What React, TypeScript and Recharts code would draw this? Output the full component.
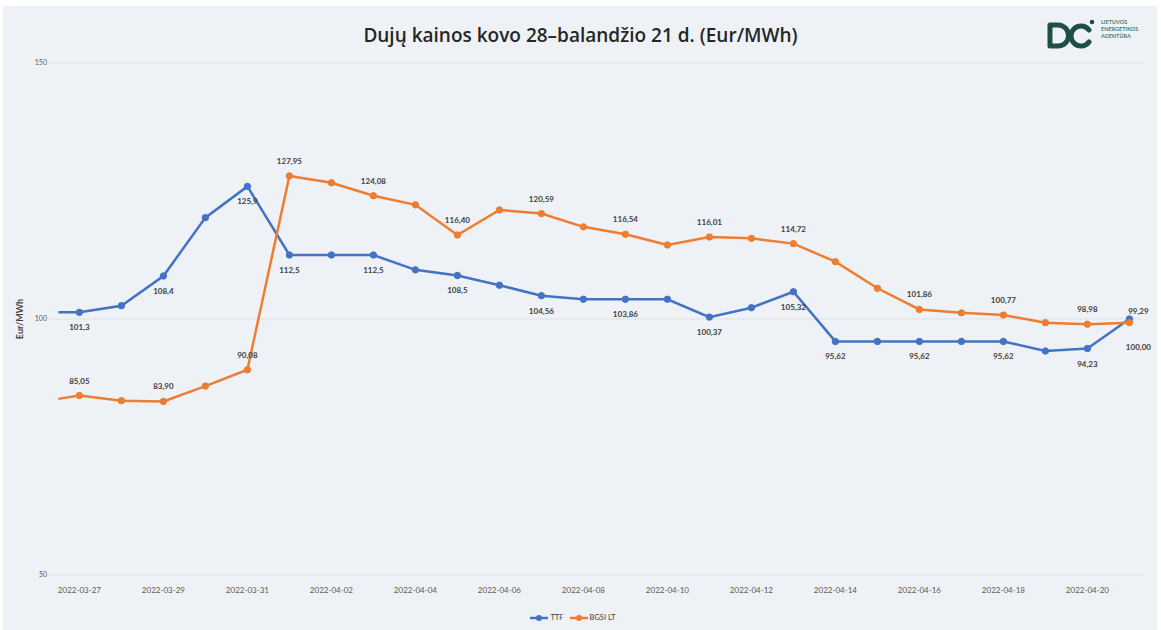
import React from 'react';
import { LineChart, Line, XAxis, YAxis, CartesianGrid, Legend, LabelList } from 'recharts';

const dates = [
  '2022-03-26T12:00', '2022-03-27', '2022-03-28', '2022-03-29', '2022-03-30', '2022-03-31',
  '2022-04-01', '2022-04-02', '2022-04-03', '2022-04-04', '2022-04-05', '2022-04-06',
  '2022-04-07', '2022-04-08', '2022-04-09', '2022-04-10', '2022-04-11', '2022-04-12',
  '2022-04-13', '2022-04-14', '2022-04-15', '2022-04-16', '2022-04-17', '2022-04-18',
  '2022-04-19', '2022-04-20', '2022-04-21',
];

const ttf = [
  101.3, 101.3, 102.6, 108.4, 119.8, 125.9, 112.5, 112.5, 112.5, 109.6, 108.5, 106.6,
  104.56, 103.86, 103.86, 103.86, 100.37, 102.2, 105.32, 95.62, 95.62, 95.62, 95.62, 95.62,
  93.75, 94.23, 100.0,
];

const bgsi = [
  84.4, 85.05, 84.05, 83.9, 86.9, 90.08, 127.95, 126.6, 124.08, 122.3, 116.4, 121.3,
  120.59, 118.0, 116.54, 114.45, 116.01, 115.75, 114.72, 111.2, 106.0, 101.86, 101.2, 100.77,
  99.28, 98.98, 99.29,
];

const ttfLabels = [
  '', '101,3', '', '108,4', '', '125,9', '112,5', '', '112,5', '', '108,5', '',
  '104,56', '', '103,86', '', '100,37', '', '105,32', '95,62', '', '95,62', '', '95,62',
  '', '94,23', '100,00',
];

const bgsiLabels = [
  '', '85,05', '', '83,90', '', '90,08', '127,95', '', '124,08', '', '116,40', '',
  '120,59', '', '116,54', '', '116,01', '', '114,72', '', '', '101,86', '', '100,77',
  '', '98,98', '99,29',
];

const tickDates = [
  '2022-03-27', '2022-03-29', '2022-03-31', '2022-04-02', '2022-04-04', '2022-04-06',
  '2022-04-08', '2022-04-10', '2022-04-12', '2022-04-14', '2022-04-16', '2022-04-18', '2022-04-20',
];

const yTicks = [50, 100, 150];

const TITLE = 'Dujų kainos kovo 28–balandžio 21 d. (Eur/MWh)';
const Y_LABEL = 'Eur/MWh';
const SERIES_TTF = 'TTF';
const SERIES_BGSI = 'BGSI LT';

const BASE = Date.parse('2022-03-27T00:00:00');
const DAY = 86400000;
const toDay = (s: string) => (Date.parse(s.length === 10 ? s + 'T00:00:00' : s + ':00') - BASE) / DAY;

const data = dates.map((d, i) => ({ x: toDay(d), date: d, ttf: ttf[i], bgsi: bgsi[i] }));
const ticks = tickDates.map(toDay);
const tickFmt = (v: number) => {
  const i = ticks.findIndex((t) => Math.abs(t - v) < 1e-6);
  return i >= 0 ? tickDates[i] : '';
};

const BLUE = '#4472C4';
const ORANGE = '#ED7D31';
const FONT = 'Lato, "Open Sans", sans-serif';
const LAST = dates.length - 1;

const makeDot = (color: string) => (props: any) => {
  const { cx, cy, index } = props;
  if (index === 0) return <g key={`d${index}`} />;
  return <circle key={`d${index}`} cx={cx} cy={cy} r={3.2} fill={color} stroke={color} strokeWidth={1} />;
};

const makeLabel = (labels: string[], below: boolean) => (props: any) => {
  const { x, y, index } = props;
  const t = labels[index];
  if (!t) return null;
  let dx = 0;
  let dy = below ? 18 : -12;
  if (index === LAST) {
    dx = 9;
    dy = below ? 31 : -9;
  }
  return (
    <text
      key={`l${index}`}
      x={x + dx}
      y={y + dy}
      textAnchor="middle"
      fontSize={8}
      fontWeight={700}
      fill="#404040"
      fontFamily={FONT}
    >
      {t}
    </text>
  );
};

const YLabel = (props: any) => {
  const vb = props.viewBox || {};
  const cy = (vb.y || 0) + (vb.height || 0) / 2;
  return (
    <text x={23} y={cy} transform={`rotate(-90 23 ${cy})`} textAnchor="middle" fontSize={9} fontWeight={700} fill="#404040" fontFamily={FONT}>
      {Y_LABEL}
    </text>
  );
};

const LegendContent = () => (
  <div style={{ display: 'flex', justifyContent: 'center', alignItems: 'center', height: 25, fontFamily: FONT, fontSize: 7.5, color: '#404040', paddingLeft: 0 }}>
    {[
      { name: SERIES_TTF, color: BLUE },
      { name: SERIES_BGSI, color: ORANGE },
    ].map((s) => (
      <div key={s.name} style={{ display: 'flex', alignItems: 'center', marginRight: 6 }}>
        <svg width={18} height={8} style={{ marginRight: 2 }}>
          <line x1={0} y1={4} x2={18} y2={4} stroke={s.color} strokeWidth={2.5} />
          <circle cx={9} cy={4} r={3} fill={s.color} />
        </svg>
        <span>{s.name}</span>
      </div>
    ))}
  </div>
);

const Logo = () => (
  <svg width={100} height={40} style={{ position: 'absolute', left: 1044, top: 14 }}>
    <path d="M6 11 L14 11 A10.5 10.5 0 0 1 14 32 L6 32 Z" fill="none" stroke="#1d4f47" strokeWidth={5} strokeLinejoin="round" />
    <path d="M45 16 A10 10 0 1 0 45 28" fill="none" stroke="#1d4f47" strokeWidth={5} strokeLinecap="round" />
    <circle cx={48} cy={8} r={2.3} fill="#1d4f47" />
    <text x={57} y={10} fontSize={5.5} fontWeight={700} fill="#4f7a72" fontFamily={FONT}>LIETUVOS</text>
    <text x={57} y={17} fontSize={5.5} fontWeight={700} fill="#4f7a72" fontFamily={FONT}>ENERGETIKOS</text>
    <text x={57} y={24} fontSize={5.5} fontWeight={700} fill="#4f7a72" fontFamily={FONT}>AGENTŪRA</text>
  </svg>
);

export default function App() {
  return (
    <div style={{ position: 'absolute', left: 0, top: 0, width: 1161, height: 630, background: '#ffffff', overflow: 'hidden' }}>
      <div style={{ position: 'absolute', left: 3, top: 6, width: 1154, height: 624, background: '#EEF2F6' }} />
      <div
        style={{
          position: 'absolute',
          left: 0,
          top: 22,
          width: 1161,
          textAlign: 'center',
          fontFamily: '"Open Sans", sans-serif',
          fontSize: 19,
          fontWeight: 600,
          color: '#262626',
        }}
      >
        {TITLE}
      </div>
      <Logo />
      <div style={{ position: 'absolute', left: 0, top: 0 }}>
        <LineChart width={1161} height={630} data={data} margin={{ top: 63, right: 19, left: 10, bottom: 0 }}>
          <CartesianGrid vertical={false} stroke="#dde2e8" strokeWidth={1} />
          <XAxis
            dataKey="x"
            type="number"
            domain={[-0.7, 25.3]}
            ticks={ticks}
            tickFormatter={tickFmt}
            axisLine={false}
            tickLine={false}
            tickSize={0}
            tickMargin={12}
            height={30}
            interval={0}
            tick={{ fontSize: 8, fill: '#595959', fontFamily: FONT }}
          />
          <YAxis
            type="number"
            domain={[50, 150]}
            ticks={yTicks}
            axisLine={false}
            tickLine={false}
            tickSize={0}
            tickMargin={3}
            width={40}
            tick={{ fontSize: 7, fill: '#595959', fontFamily: FONT }}
            label={<YLabel />}
          />
          <Legend verticalAlign="bottom" height={25} content={<LegendContent />} />
          <Line
            type="linear"
            dataKey="ttf"
            name={SERIES_TTF}
            stroke={BLUE}
            strokeWidth={2.5}
            dot={makeDot(BLUE)}
            isAnimationActive={false}
          >
            <LabelList dataKey="ttf" content={makeLabel(ttfLabels, true)} />
          </Line>
          <Line
            type="linear"
            dataKey="bgsi"
            name={SERIES_BGSI}
            stroke={ORANGE}
            strokeWidth={2.5}
            dot={makeDot(ORANGE)}
            isAnimationActive={false}
          >
            <LabelList dataKey="bgsi" content={makeLabel(bgsiLabels, false)} />
          </Line>
        </LineChart>
      </div>
    </div>
  );
}
